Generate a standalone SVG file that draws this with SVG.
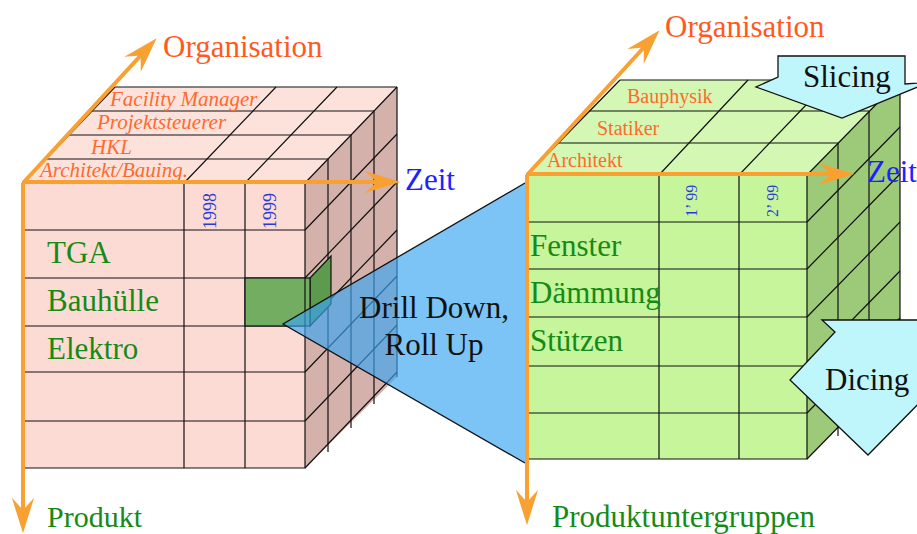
<svg xmlns="http://www.w3.org/2000/svg" width="917" height="534" viewBox="0 0 917 534" font-family="'Liberation Serif', 'DejaVu Serif', serif">
  <style>
    text { font-family: 'Liberation Serif', 'DejaVu Serif', serif; }
    .grid { fill: none; stroke: #111; stroke-width: 1.2; }
    .axis { fill: none; stroke: #f8a132; stroke-width: 4; marker-end: url(#head); }
    .big { font-size: 31px; }
    .dim { fill: #ff5a1e; }
    .prod { fill: #168a16; }
    .time { fill: #1a22ff; }
    .top-it { font-size: 21px; font-style: italic; fill: #ff6a2c; }
    .top-rg { font-size: 20px; fill: #ff6a2c; }
    .year { font-size: 18px; fill: #2a3ad8; }
    .op { fill: #bff6fc; stroke: #111; stroke-width: 1.3; }
  </style>
  <defs>
    <marker id="head" markerUnits="userSpaceOnUse" markerWidth="40" markerHeight="30" viewBox="-34 -12 36 24" refX="-21" refY="0" orient="auto">
      <path d="M0,0 L-32,-10 L-21,0 L-32,10 Z" fill="#f8a132"/>
    </marker>
  </defs>
  <rect width="917" height="534" fill="#fff"/>

  <!-- left cube: Produkt x Zeit x Organisation -->
  <g id="cube-left">
    <polygon points="23,183 305,183 397,87 115,87" fill="#fde2dc"/>
    <polygon points="305,183 397,87 397,377 305,468" fill="#d4b1ab"/>
    <rect x="23" y="183" width="282" height="285" fill="#fcdbd5"/>
    <g class="grid">
      <!-- top slabs -->
      <path d="M46,159 H328 M69,135 H351 M92,111 H374 M115,87 H397"/>
      <path d="M23,183 L115,87 M184,183 L276,87 M245,183 L337,87 M305,183 L397,87"/>
      <!-- front grid -->
      <path d="M23,183 H305 V468 H23 Z"/>
      <path d="M23,230 H305 M23,278 H305 M23,326 H305 M23,372 H305 M23,421 H305"/>
      <path d="M184,183 V468 M245,183 V468"/>
      <!-- side -->
      <path d="M328,159 V452 M351,135 V428 M374,111 V404 M397,87 V377"/>
      <path d="M305,230 L397,134 M305,278 L397,182 M305,326 L397,230 M305,372 L397,276 M305,421 L397,325 M305,468 L397,372"/>
    </g>
    <text class="top-it" x="110" y="106">Facility Manager</text>
    <text class="top-it" x="97" y="129">Projektsteuerer</text>
    <text class="top-it" x="91" y="154">HKL</text>
    <text class="top-it" x="40" y="177">Architekt/Bauing.</text>
    <text class="year" transform="translate(216,229) rotate(-90)">1998</text>
    <text class="year" transform="translate(276,229) rotate(-90)">1999</text>
    <text class="big prod" x="47" y="263">TGA</text>
    <text class="big prod" x="47" y="311">Bauhülle</text>
    <text class="big prod" x="47" y="359">Elektro</text>
  </g>

  <!-- selected cell -->
  <g id="cell">
    <polygon points="310,278 331,256 331,304 310,326" fill="#5d9a4d" stroke="#111" stroke-width="1.2"/>
    <rect x="245" y="278" width="65" height="48" fill="#72ad62" stroke="#111" stroke-width="1.2"/>
    <path d="M305,278 V326" class="grid"/>
  </g>

  <!-- right cube: Produktuntergruppen x Zeit x Organisation -->
  <g id="cube-right">
    <polygon points="527,175 807,175 900,80 620,80" fill="#d4f7b4"/>
    <polygon points="807,175 900,80 900,364 807,459" fill="#9dca79"/>
    <rect x="527" y="175" width="280" height="284" fill="#c6f59c"/>
    <g class="grid">
      <path d="M558,143 H838 M589,111 H869 M620,80 H900"/>
      <path d="M527,175 L620,80 M659,175 L748,80 M739,175 L830,80 M807,175 L900,80"/>
      <path d="M527,175 H807 V459 H527 Z"/>
      <path d="M527,222 H807 M527,269 H807 M527,317 H807 M527,366 H807 M527,413 H807"/>
      <path d="M659,175 V459 M739,175 V459"/>
      <path d="M838,143 V436 M869,111 V404 M900,80 V364"/>
      <path d="M807,222 L900,127 M807,269 L900,174 M807,317 L900,222 M807,366 L900,271 M807,413 L900,318 M807,459 L900,364"/>
    </g>
    <text class="top-rg" x="627" y="103">Bauphysik</text>
    <text class="top-rg" x="597" y="135">Statiker</text>
    <text class="top-rg" x="547" y="167">Architekt</text>
    <text class="year" style="font-size:16px" transform="translate(697,217) rotate(-90)">1’ 99</text>
    <text class="year" style="font-size:16px" transform="translate(778,217) rotate(-90)">2’ 99</text>
    <text class="big prod" x="530" y="256">Fenster</text>
    <text class="big prod" x="530" y="303">Dämmung</text>
    <text class="big prod" x="530" y="351">Stützen</text>
  </g>

  <!-- drill down / roll up funnel -->
  <g id="drill">
    <polygon points="283,324 525,183 525,463" fill="#3aa6f2" fill-opacity="0.66"/>
    <path d="M525,183 L283,324 L525,463" fill="none" stroke="#111" stroke-width="1.3"/>
    <text class="big" x="434" y="318" text-anchor="middle" fill="#111">Drill Down,</text>
    <text class="big" x="434" y="355" text-anchor="middle" fill="#111">Roll Up</text>
  </g>

  <!-- operations -->
  <g id="slicing">
    <polygon class="op" points="778,56 905,56 905,84 930,82 842,118 756,87 778,77"/>
    <text class="big" x="803" y="87" fill="#111">Slicing</text>
  </g>
  <g id="dicing">
    <polygon class="op" points="822,320 930,320 930,392 868,455 790,380 835,332"/>
    <text class="big" x="825" y="390" fill="#111">Dicing</text>
  </g>

  <!-- axes -->
  <g id="axes">
    <path class="axis" d="M23,183 V510"/>
    <path class="axis" d="M23,182 H377"/>
    <path class="axis" d="M23,183 L140.8,55.4"/>
    <path class="axis" d="M527,175 V502"/>
    <path class="axis" d="M527,174 H831"/>
    <path class="axis" d="M527,175 L643.8,47.5"/>
  </g>

  <g id="axis-labels">
    <text class="big dim" x="163" y="57">Organisation</text>
    <text class="big time" x="405" y="190">Zeit</text>
    <text class="big prod" x="47" y="527" style="font-size:30px">Produkt</text>
    <text class="big dim" x="665" y="37">Organisation</text>
    <text class="big time" x="867" y="182">Zeit</text>
    <text class="big prod" x="552" y="527">Produktuntergruppen</text>
  </g>
</svg>
